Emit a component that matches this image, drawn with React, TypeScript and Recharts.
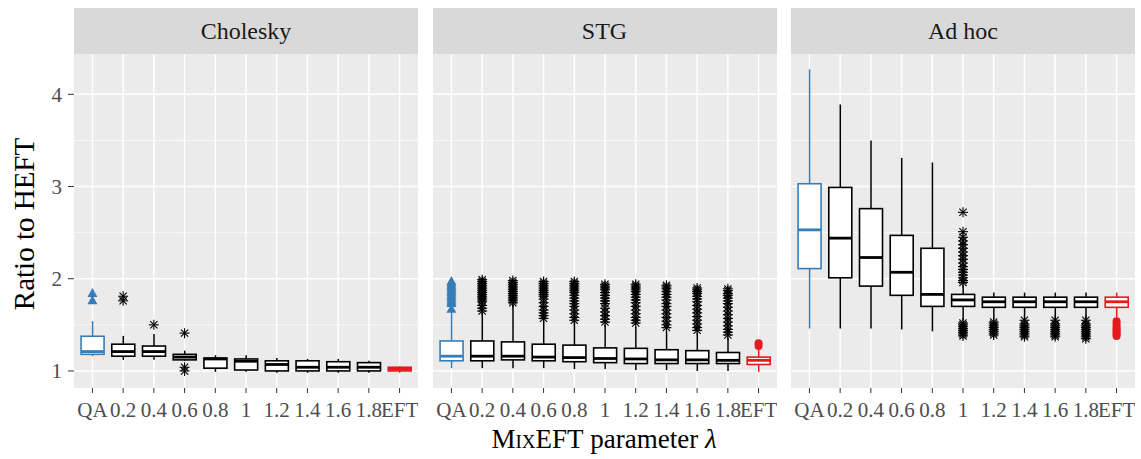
import React from 'react';
import { ComposedChart, Bar, Scatter, XAxis, YAxis, CartesianGrid } from 'recharts';

const categories = ['QA', '0.2', '0.4', '0.6', '0.8', '1', '1.2', '1.4', '1.6', '1.8', 'EFT'];
const positions = [1, 2, 3, 4, 5, 6, 7, 8, 9, 10, 11];
const yTicks = [1, 2, 3, 4];
const yMinor = [1.5, 2.5, 3.5];
const panelTitles = ['Cholesky', 'STG', 'Ad hoc'];

// Cholesky
const cholLow = [1.16, 1.12, 1.12, 1.11, 0.99, 0.99, 0.98, 0.98, 0.98, 0.98, 0.98];
const cholQ1 = [1.18, 1.16, 1.16, 1.12, 1.03, 1.01, 1.0, 1.0, 1.0, 1.0, 1.0];
const cholMed = [1.21, 1.21, 1.21, 1.15, 1.13, 1.105, 1.07, 1.04, 1.04, 1.04, 1.02];
const cholQ3 = [1.376, 1.29, 1.27, 1.18, 1.14, 1.13, 1.11, 1.11, 1.1, 1.09, 1.04];
const cholHigh = [1.54, 1.38, 1.4, 1.22, 1.17, 1.17, 1.14, 1.13, 1.13, 1.11, 1.05];
const cholOut = [[1.84, 1.76], [1.81, 1.76], [1.5], [1.41, 1.04, 1.0], [], [], [], [], [], [], []];

// STG
const stgLow = [1.03, 1.03, 1.03, 1.03, 1.02, 1.02, 1.01, 1.01, 1.0, 1.0, 0.99];
const stgQ1 = [1.11, 1.11, 1.12, 1.11, 1.1, 1.09, 1.08, 1.08, 1.08, 1.08, 1.07];
const stgMed = [1.16, 1.16, 1.16, 1.15, 1.145, 1.135, 1.13, 1.12, 1.12, 1.115, 1.115];
const stgQ3 = [1.325, 1.325, 1.315, 1.29, 1.28, 1.25, 1.245, 1.23, 1.22, 1.2, 1.15];
const stgHigh = [1.64, 1.63, 1.72, 1.55, 1.53, 1.5, 1.48, 1.43, 1.41, 1.36, 1.23];
const stgOut = [
  [1.97, 1.95, 1.93, 1.91, 1.89, 1.87, 1.85, 1.83, 1.81, 1.79, 1.77, 1.75, 1.73, 1.67],
  [1.99, 1.97, 1.95, 1.93, 1.91, 1.89, 1.87, 1.85, 1.83, 1.81, 1.79, 1.77, 1.75, 1.71, 1.68, 1.65],
  [1.98, 1.96, 1.94, 1.92, 1.9, 1.88, 1.86, 1.84, 1.82, 1.8, 1.78, 1.76, 1.74],
  [1.97, 1.95, 1.93, 1.91, 1.89, 1.87, 1.85, 1.83, 1.81, 1.78, 1.74, 1.7, 1.66, 1.63, 1.6, 1.57],
  [1.97, 1.95, 1.93, 1.91, 1.89, 1.87, 1.85, 1.82, 1.79, 1.76, 1.73, 1.7, 1.66, 1.62, 1.58, 1.55],
  [1.94, 1.92, 1.9, 1.88, 1.85, 1.82, 1.79, 1.76, 1.73, 1.68, 1.64, 1.6, 1.56, 1.53],
  [1.94, 1.92, 1.9, 1.88, 1.86, 1.83, 1.8, 1.77, 1.74, 1.7, 1.66, 1.62, 1.58, 1.55, 1.52],
  [1.93, 1.91, 1.89, 1.86, 1.83, 1.8, 1.77, 1.73, 1.7, 1.66, 1.62, 1.58, 1.54, 1.5, 1.47],
  [1.9, 1.88, 1.86, 1.84, 1.81, 1.78, 1.75, 1.71, 1.67, 1.63, 1.59, 1.55, 1.51, 1.47, 1.44],
  [1.89, 1.87, 1.84, 1.82, 1.79, 1.76, 1.73, 1.69, 1.65, 1.61, 1.57, 1.53, 1.49, 1.45, 1.42, 1.39],
  [1.3, 1.27],
];

// Ad hoc
const adhLow = [1.46, 1.46, 1.46, 1.45, 1.43, 1.55, 1.56, 1.56, 1.56, 1.56, 1.58];
const adhQ1 = [2.11, 2.01, 1.92, 1.82, 1.7, 1.7, 1.69, 1.69, 1.69, 1.69, 1.69];
const adhMed = [2.53, 2.44, 2.23, 2.07, 1.83, 1.77, 1.75, 1.75, 1.75, 1.75, 1.75];
const adhQ3 = [3.03, 2.99, 2.76, 2.47, 2.33, 1.83, 1.8, 1.8, 1.8, 1.8, 1.8];
const adhHigh = [4.27, 3.89, 3.5, 3.31, 3.26, 1.93, 1.85, 1.85, 1.85, 1.85, 1.85];
const adhOut = [
  [], [], [], [], [],
  [2.72, 2.51, 2.45, 2.41, 2.37, 2.33, 2.29, 2.25, 2.21, 2.17, 2.13, 2.1, 2.07, 2.04, 2.01, 1.98, 1.96,
    1.52, 1.5, 1.48, 1.46, 1.44, 1.42, 1.4, 1.38],
  [1.53, 1.51, 1.49, 1.47, 1.45, 1.43, 1.41, 1.39],
  [1.55, 1.51, 1.49, 1.47, 1.45, 1.43, 1.41, 1.39, 1.37],
  [1.55, 1.51, 1.49, 1.47, 1.45, 1.43, 1.41, 1.39, 1.37],
  [1.55, 1.51, 1.49, 1.47, 1.45, 1.43, 1.41, 1.39, 1.37, 1.35],
  [1.54, 1.51, 1.48, 1.46, 1.44, 1.42, 1.4, 1.38],
];

const BLUE = '#377EB8';
const RED = '#E41A1C';
const FONT = "'Liberation Serif', 'Times New Roman', serif";
const Y_DOMAIN: [number, number] = [0.815, 4.437];

const colorOf = (cat: string) => (cat === 'QA' ? BLUE : cat === 'EFT' ? RED : '#000000');

function buildRows(low: number[], q1: number[], med: number[], q3: number[], high: number[]) {
  return categories.map((cat, i) => ({
    pos: positions[i], cat, low: low[i], q1: q1[i], med: med[i], q3: q3[i], high: high[i],
  }));
}
function buildOutliers(out: number[][]) {
  const res: { pos: number; v: number; cat: string }[] = [];
  out.forEach((vals, i) => vals.forEach((v) => res.push({ pos: positions[i], v, cat: categories[i] })));
  return res;
}

const BoxShape = (props: any) => {
  const { x, y, width, height, payload } = props;
  if (x == null || y == null || !payload) return null;
  const top = Math.min(y, y + height);
  const bot = Math.max(y, y + height);
  const lo = payload.low;
  const hi = payload.high;
  const py = (v: number) => top + ((hi - v) / (hi - lo)) * (bot - top);
  const cx = x + width / 2;
  const col = colorOf(payload.cat);
  const yq3 = py(payload.q3);
  const yq1 = py(payload.q1);
  const ym = py(payload.med);
  return (
    <g>
      <line x1={cx} x2={cx} y1={top} y2={yq3} stroke={col} strokeWidth={1.5} />
      <line x1={cx} x2={cx} y1={yq1} y2={bot} stroke={col} strokeWidth={1.5} />
      <rect x={x} y={yq3} width={width} height={Math.max(yq1 - yq3, 0.5)} fill="#FFFFFF" stroke={col} strokeWidth={1.6} />
      <line x1={x} x2={x + width} y1={ym} y2={ym} stroke={col} strokeWidth={2.8} />
    </g>
  );
};

const OutlierShape = (props: any) => {
  const { cx, cy, payload } = props;
  if (cx == null || cy == null || !payload) return null;
  const col = colorOf(payload.cat);
  if (payload.cat === 'QA') {
    return <polygon points={`${cx},${cy - 5.5} ${cx - 5},${cy + 3.5} ${cx + 5},${cy + 3.5}`} fill={col} />;
  }
  if (payload.cat === 'EFT') {
    return <circle cx={cx} cy={cy} r={4} fill={col} />;
  }
  const r = 5;
  const d = 3.6;
  return (
    <g stroke={col} strokeWidth={1.1}>
      <line x1={cx - r} x2={cx + r} y1={cy} y2={cy} />
      <line x1={cx} x2={cx} y1={cy - r} y2={cy + r} />
      <line x1={cx - d} x2={cx + d} y1={cy - d} y2={cy + d} />
      <line x1={cx - d} x2={cx + d} y1={cy + d} y2={cy - d} />
    </g>
  );
};

const panels = [
  { title: panelTitles[0], rows: buildRows(cholLow, cholQ1, cholMed, cholQ3, cholHigh), out: buildOutliers(cholOut) },
  { title: panelTitles[1], rows: buildRows(stgLow, stgQ1, stgMed, stgQ3, stgHigh), out: buildOutliers(stgOut) },
  { title: panelTitles[2], rows: buildRows(adhLow, adhQ1, adhMed, adhQ3, adhHigh), out: buildOutliers(adhOut) },
];

const PANEL_LEFT = [74, 432.5, 791];
const PANEL_W = 344;
const PLOT_TOP = 54;
const PLOT_BOTTOM = 388;
const H = 459;

function Panel({ idx }: { idx: number }) {
  const p = panels[idx];
  const withY = idx === 0;
  const yW = withY ? PANEL_LEFT[0] : 0;
  const left = withY ? 0 : PANEL_LEFT[idx];
  return (
    <div style={{ position: 'absolute', left, top: 0 }}>
      <ComposedChart
        width={PANEL_W + yW}
        height={H}
        data={p.rows}
        margin={{ top: PLOT_TOP, right: 0, bottom: 0, left: 0 }}
        style={{ fontFamily: FONT }}
      >
        <CartesianGrid
          fill="#EBEBEB"
          stroke="#FFFFFF"
          strokeWidth={0.7}
          vertical={false}
          horizontalValues={yMinor}
        />
        <CartesianGrid
          stroke="#FFFFFF"
          strokeWidth={1.4}
          horizontalValues={yTicks}
          verticalValues={positions}
        />
        <XAxis
          dataKey="pos"
          type="number"
          domain={[0.4, 11.6]}
          ticks={positions}
          interval={0}
          allowDataOverflow
          tickFormatter={(v: number) => categories[v - 1] ?? ''}
          axisLine={false}
          tickLine={{ stroke: '#333333', strokeWidth: 1 }}
          tickSize={5}
          tickMargin={9}
          height={H - PLOT_BOTTOM}
          tick={{ fontSize: 21, fill: '#4D4D4D', fontFamily: FONT }}
        />
        <YAxis
          type="number"
          domain={Y_DOMAIN}
          ticks={yTicks}
          allowDataOverflow
          hide={!withY}
          width={yW}
          axisLine={false}
          tickLine={{ stroke: '#333333', strokeWidth: 1 }}
          tickSize={6}
          tickMargin={6}
          tick={{ fontSize: 21, fill: '#4D4D4D', fontFamily: FONT }}
        />
        <Bar
          dataKey={(d: any) => [d.low, d.high]}
          barSize={23}
          shape={BoxShape}
          isAnimationActive={false}
        />
        <Scatter data={p.out} dataKey="v" shape={OutlierShape} isAnimationActive={false} />
      </ComposedChart>
      <div
        style={{
          position: 'absolute',
          left: yW,
          top: 8,
          width: PANEL_W,
          height: PLOT_TOP - 8,
          background: '#D9D9D9',
          color: '#1A1A1A',
          fontFamily: FONT,
          fontSize: 24,
          lineHeight: `${PLOT_TOP - 8}px`,
          textAlign: 'center',
        }}
      >
        {p.title}
      </div>
    </div>
  );
}

export default function App() {
  return (
    <div style={{ position: 'absolute', left: 0, top: 0, width: 1141, height: 459, background: '#FFFFFF', overflow: 'hidden' }}>
      <Panel idx={0} />
      <Panel idx={1} />
      <Panel idx={2} />
      <div
        style={{
          position: 'absolute',
          left: 24,
          top: 224,
          transform: 'translate(-50%, -50%) rotate(-90deg)',
          whiteSpace: 'nowrap',
          fontFamily: FONT,
          fontSize: 29,
          lineHeight: '29px',
          color: '#000000',
        }}
      >
        Ratio to HEFT
      </div>
      <div
        style={{
          position: 'absolute',
          left: 604,
          top: 426,
          transform: 'translateX(-50%)',
          whiteSpace: 'nowrap',
          fontFamily: FONT,
          fontSize: 27,
          lineHeight: '27px',
          color: '#000000',
        }}
      >
        <span style={{ fontVariant: 'small-caps' }}>MixEFT</span> parameter <i>λ</i>
      </div>
    </div>
  );
}
